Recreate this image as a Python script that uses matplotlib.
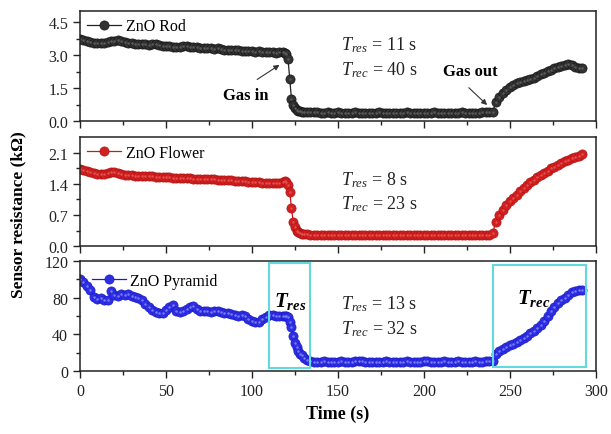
import numpy as np
import matplotlib
matplotlib.use("Agg")
import matplotlib.pyplot as plt
from matplotlib.patches import Rectangle
from matplotlib.ticker import FormatStrFormatter

plt.rcParams['font.family'] = ['Liberation Serif', 'DejaVu Serif']
plt.rcParams['mathtext.fontset'] = 'custom'
plt.rcParams['mathtext.rm'] = 'Liberation Serif'
plt.rcParams['mathtext.it'] = 'Liberation Serif:italic'
plt.rcParams['mathtext.bf'] = 'Liberation Serif:bold'
plt.rcParams['mathtext.bfit'] = 'Liberation Serif:italic:bold'

# time (s): 2 s steps, 1 s steps around gas in
time = np.concatenate([np.arange(0, 118, 2), np.arange(118, 130, 1), np.arange(130, 294, 2)])

# sensor resistance (kOhm)
rod = [
    # 0-116 s
    3.74, 3.70, 3.65, 3.60, 3.56, 3.55, 3.53, 3.56, 3.60, 3.62,
    3.64, 3.66, 3.63, 3.58, 3.55, 3.53, 3.52, 3.50, 3.51, 3.49,
    3.47, 3.48, 3.50, 3.46, 3.42, 3.40, 3.42, 3.38, 3.36, 3.38,
    3.40, 3.42, 3.38, 3.35, 3.36, 3.33, 3.31, 3.33, 3.30, 3.28,
    3.30, 3.27, 3.25, 3.24, 3.22, 3.24, 3.21, 3.20, 3.18, 3.19,
    3.17, 3.15, 3.16, 3.14, 3.13, 3.14, 3.12, 3.11, 3.12,
    # 118-129 s
    3.12, 3.10, 3.05, 2.80, 1.90, 1.00, 0.72, 0.58, 0.50, 0.46, 0.44, 0.42,
    # 130-238 s
    0.41, 0.40, 0.40,
    0.39, 0.39, 0.38, 0.38, 0.39, 0.38, 0.38, 0.39, 0.38, 0.37, 0.38, 0.38, 0.39,
    0.38, 0.37, 0.38, 0.38, 0.37, 0.38, 0.39, 0.38, 0.38, 0.37, 0.38, 0.37, 0.38,
    0.38, 0.39, 0.38, 0.37, 0.38, 0.38, 0.37, 0.38, 0.38, 0.39, 0.38, 0.38, 0.37,
    0.38, 0.38, 0.37, 0.38, 0.39, 0.38, 0.38, 0.37, 0.38, 0.38, 0.39, 0.39, 0.40,
    # 240-292 s
    0.42, 0.85, 1.10, 1.28, 1.42, 1.54, 1.64, 1.71, 1.77, 1.82,
    1.86, 1.90, 1.96, 2.04, 2.12, 2.20, 2.27, 2.33, 2.39, 2.45,
    2.51, 2.55, 2.57, 2.53, 2.47, 2.43, 2.40,
]

flower = [
    # 0-116 s
    1.74, 1.72, 1.70, 1.68, 1.65, 1.63, 1.62, 1.62, 1.64, 1.66,
    1.67, 1.65, 1.62, 1.61, 1.60, 1.60, 1.59, 1.59, 1.58, 1.58,
    1.57, 1.57, 1.56, 1.56, 1.55, 1.55, 1.55, 1.54, 1.54, 1.53,
    1.53, 1.54, 1.53, 1.52, 1.52, 1.51, 1.51, 1.51, 1.50, 1.50,
    1.49, 1.49, 1.48, 1.48, 1.48, 1.47, 1.47, 1.46, 1.46, 1.45,
    1.45, 1.44, 1.44, 1.43, 1.43, 1.43, 1.43, 1.42, 1.43,
    # 118-129 s
    1.45, 1.46, 1.45, 1.38, 1.22, 0.86, 0.54, 0.42, 0.35, 0.31, 0.29, 0.28,
    # 130-238 s
    0.27, 0.27, 0.26,
    0.26, 0.25, 0.25, 0.26, 0.25, 0.25, 0.24, 0.25, 0.25, 0.26, 0.25, 0.25, 0.24,
    0.25, 0.25, 0.26, 0.25, 0.24, 0.25, 0.25, 0.26, 0.25, 0.25, 0.24, 0.25, 0.25,
    0.26, 0.25, 0.25, 0.24, 0.25, 0.25, 0.26, 0.25, 0.25, 0.24, 0.25, 0.25, 0.26,
    0.25, 0.25, 0.24, 0.25, 0.26, 0.25, 0.25, 0.24, 0.25, 0.25, 0.26, 0.25, 0.26,
    # 240-292 s
    0.30, 0.55, 0.70, 0.82, 0.92, 1.01, 1.09, 1.16, 1.23, 1.30,
    1.37, 1.44, 1.49, 1.55, 1.60, 1.65, 1.70, 1.75, 1.79, 1.83,
    1.87, 1.91, 1.95, 1.98, 2.01, 2.04, 2.07,
]

pyramid = [
    # 0-116 s
    100, 97, 93, 88, 81, 79, 80, 78, 77, 87,
    83, 82, 84, 83, 84, 82, 81, 80, 77, 73,
    70, 67, 64, 63, 63, 67, 70, 72, 66, 64,
    66, 68, 70, 71, 68, 65, 66, 65, 64, 65,
    66, 64, 63, 63, 62, 61, 60, 61, 60, 57,
    55, 53, 54, 57, 59, 61, 61, 60, 60,
    # 118-129 s
    60, 60, 60, 59, 54, 48, 38, 31, 26, 22, 19, 17,
    # 130-238 s
    14.5, 11.5, 10.5,
    10.0, 9.5, 10.0, 10.5, 10.0, 9.5, 9.5, 10.0, 10.5, 10.0, 9.5, 10.0, 10.5,
    11.0, 10.5, 10.0, 9.5, 10.0, 10.0, 9.5, 10.0, 10.5, 10.0, 9.5, 9.5, 10.0,
    10.0, 10.5, 10.0, 9.5, 9.5, 10.0, 10.5, 10.5, 10.0, 9.5, 10.0, 10.0, 10.5,
    10.0, 9.5, 10.0, 10.5, 10.0, 10.0, 9.5, 10.0, 10.5, 10.0, 10.0, 10.5, 10.5,
    # 240-292 s
    11, 19, 22, 24, 26, 28, 30, 32, 34, 36,
    38, 41, 44, 47, 50, 55, 60, 65, 70, 74,
    77, 80, 83, 86, 87, 88, 88,
]

# name, values, line, face, edge, highlight
series = [
    ("ZnO Rod", rod, "#222222", "#333333", "#151515", "#5a5a5a"),
    ("ZnO Flower", flower, "#c81818", "#d21f1f", "#b41212", "#e25050"),
    ("ZnO Pyramid", pyramid, "#1c1ccc", "#2e2ee2", "#1a1ad0", "#7a7af2"),
]
ylims = [(0, 5.0), (0, 2.45), (0, 120)]
yticks = [[0, 1.5, 3.0, 4.5], [0, 0.7, 1.4, 2.1], [0, 40, 80, 120]]
yminor = [[0.75, 2.25, 3.75], [0.35, 1.05, 1.75], [20, 60, 100]]
res_txt = [r"$T_{res}$ = 11 s", r"$T_{res}$ = 8 s", r"$T_{res}$ = 13 s"]
rec_txt = [r"$T_{rec}$ = 40 s", r"$T_{rec}$ = 23 s", r"$T_{rec}$ = 32 s"]
txt_y = [(3.27, 2.14), (1.40, 0.86), (68.4, 40.8)]

fig = plt.figure(figsize=(6.11, 4.35), dpi=100)
boxes = [
    [0.131, 0.7195, 0.844, 0.2529],
    [0.131, 0.432, 0.844, 0.250],
    [0.131, 0.1448, 0.844, 0.2529],
]
axes = []
for i, (name, vals, lc, fc, ec, hc) in enumerate(series):
    ax = fig.add_axes(boxes[i])
    ax.plot(time, vals, '-o', color=lc, mfc=fc, mec=ec, ms=6.6, mew=0.5, lw=0.9,
            label=name, zorder=2)
    ax.plot(time, vals, 'o', color=hc, ms=1.8, mew=0, zorder=2.1)
    ax.set_xlim(0, 300)
    ax.set_ylim(*ylims[i])
    ax.set_xticks(np.arange(0, 301, 50))
    ax.set_xticks(np.arange(25, 300, 50), minor=True)
    ax.set_yticks(yticks[i])
    ax.set_yticks(yminor[i], minor=True)
    if i < 2:
        ax.yaxis.set_major_formatter(FormatStrFormatter('%.1f'))
        ax.tick_params(labelbottom=False)
    ax.tick_params(which='both', direction='out', top=False, right=False,
                   labelsize=11.5, colors='#222222', width=1)
    ax.tick_params(which='major', length=5)
    ax.tick_params(which='minor', length=3)
    for s in ax.spines.values():
        s.set_linewidth(1.1)
        s.set_color('#222222')
    ax.legend(loc='upper left', frameon=False, fontsize=11.5, handlelength=2.1,
              handletextpad=0.3, borderaxespad=0.15,
              borderpad=0.3 if i < 2 else 0.6)
    ax.text(152, txt_y[i][0], res_txt[i], fontsize=13, va='baseline', color='#222222')
    ax.text(152, txt_y[i][1], rec_txt[i], fontsize=13, va='baseline', color='#222222')
    axes.append(ax)

ax1, ax2, ax3 = axes

# gas in / gas out marks on the rod panel
ax1.text(96.5, 1.18, "Gas in", fontsize=12, fontweight='bold', ha='center', va='center')
ax1.annotate("", xy=(117.4, 2.62), xytext=(101.7, 1.82),
             arrowprops=dict(arrowstyle='-|>', color='#333333', lw=0.8, mutation_scale=8))
ax1.text(227, 2.27, "Gas out", fontsize=12, fontweight='bold', ha='center', va='center')
ax1.annotate("", xy=(238, 0.64), xytext=(225, 1.6),
             arrowprops=dict(arrowstyle='-|>', color='#333333', lw=0.8, mutation_scale=8))

# response / recovery boxes on the pyramid panel
ax3.add_patch(Rectangle((110, 3), 24, 115, fill=False, ec='#62d8e0', lw=1.5, zorder=3))
ax3.add_patch(Rectangle((240, 4), 54.5, 112, fill=False, ec='#62d8e0', lw=1.5, zorder=3))
ax3.text(122, 77, r"$\mathbfit{T}_{\mathbfit{res}}$", fontsize=15, ha='center', va='center')
ax3.text(264, 80, r"$\mathbfit{T}_{\mathbfit{rec}}$", fontsize=15, ha='center', va='center')

ax3.set_xlabel("Time (s)", fontsize=13, fontweight='bold', labelpad=4)
fig.text(0.03, 0.506, "Sensor resistance (k\u03a9)", rotation=90, fontsize=12.5,
         fontweight='bold', ha='center', va='center')

fig.savefig("out.png", dpi=100)
